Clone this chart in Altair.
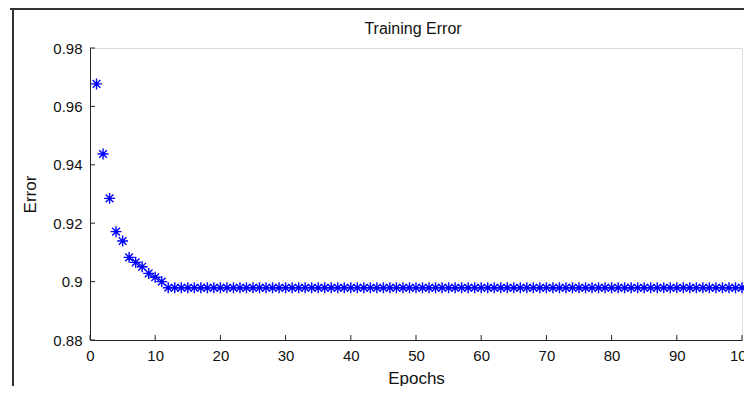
import altair as alt
import pandas as pd

epochs = list(range(1, 101))
errors = [
    0.9677, 0.9437, 0.9285, 0.9171, 0.9139, 0.9083, 0.9066, 0.9051, 0.9028, 0.9015,
    0.9000, 0.8979, 0.8979, 0.8979, 0.8979, 0.8979, 0.8979, 0.8979, 0.8979, 0.8979,
    0.8979, 0.8979, 0.8979, 0.8979, 0.8979, 0.8979, 0.8979, 0.8979, 0.8979, 0.8979,
    0.8979, 0.8979, 0.8979, 0.8979, 0.8979, 0.8979, 0.8979, 0.8979, 0.8979, 0.8979,
    0.8979, 0.8979, 0.8979, 0.8979, 0.8979, 0.8979, 0.8979, 0.8979, 0.8979, 0.8979,
    0.8979, 0.8979, 0.8979, 0.8979, 0.8979, 0.8979, 0.8979, 0.8979, 0.8979, 0.8979,
    0.8979, 0.8979, 0.8979, 0.8979, 0.8979, 0.8979, 0.8979, 0.8979, 0.8979, 0.8979,
    0.8979, 0.8979, 0.8979, 0.8979, 0.8979, 0.8979, 0.8979, 0.8979, 0.8979, 0.8979,
    0.8979, 0.8979, 0.8979, 0.8979, 0.8979, 0.8979, 0.8979, 0.8979, 0.8979, 0.8979,
    0.8979, 0.8979, 0.8979, 0.8979, 0.8979, 0.8979, 0.8979, 0.8979, 0.8979, 0.8979,
]
x_ticks = [0, 10, 20, 30, 40, 50, 60, 70, 80, 90, 100]
y_ticks = [0.88, 0.90, 0.92, 0.94, 0.96, 0.98]
title_text = ["Training Error"]

W, H = 652, 292
FONT = "Liberation Sans"
INK = "#262626"

df = pd.DataFrame({"Epoch": epochs, "Error": errors})
xt = pd.DataFrame({"t": x_ticks})
yt = pd.DataFrame({"t": y_ticks})
tt = pd.DataFrame({"label": title_text})

xscale = alt.Scale(domain=[0, 100], nice=False, zero=False)
yscale = alt.Scale(domain=[0.88, 0.98], nice=False, zero=False)

star = "M-1,0L1,0M0,-1L0,1M-0.7,-0.7L0.7,0.7M-0.7,0.7L0.7,-0.7"

points = alt.Chart(df).mark_point(
    shape=star, filled=False, color="#0000FF", strokeWidth=1.4, size=120, opacity=1
).encode(
    x=alt.X("Epoch:Q", scale=xscale,
            axis=alt.Axis(values=x_ticks, title="Epochs", ticks=False, grid=False,
                          domainColor=INK, labelPadding=8, titlePadding=7,
                          labelFont=FONT, labelFontSize=15, labelColor="#111",
                          titleFont=FONT, titleFontSize=17, titleFontWeight="normal",
                          titleColor="#111", labelFlush=False)),
    y=alt.Y("Error:Q", scale=yscale,
            axis=alt.Axis(values=y_ticks, format=".2~f", title="Error", ticks=False, grid=False,
                          domainColor=INK, labelPadding=8, titlePadding=13,
                          labelFont=FONT, labelFontSize=15, labelColor="#111",
                          titleFont=FONT, titleFontSize=17, titleFontWeight="normal",
                          titleColor="#111", labelFlush=False)),
)

xtick_marks = alt.Chart(xt).mark_rule(color=INK, strokeWidth=1).encode(
    x=alt.X("t:Q", scale=xscale),
    y=alt.value(H),
    y2=alt.value(H - 5),
)
ytick_marks = alt.Chart(yt).mark_rule(color=INK, strokeWidth=1).encode(
    y=alt.Y("t:Q", scale=yscale),
    x=alt.value(0),
    x2=alt.value(5),
)

title_mark = alt.Chart(tt).mark_text(
    font=FONT, fontSize=16, color="#111", align="center", baseline="alphabetic"
).encode(
    text="label:N",
    x=alt.value(W / 2 - 3),
    y=alt.value(-14),
)

frame_top = alt.Chart(xt).mark_rule(color="#333", strokeWidth=2).encode(
    x=alt.value(-80), x2=alt.value(W + 20), y=alt.value(-39)
)
frame_left = alt.Chart(xt).mark_rule(color="#333", strokeWidth=2).encode(
    x=alt.value(-77), y=alt.value(-39), y2=alt.value(H + 60)
)

chart = alt.layer(frame_top, frame_left, title_mark, points, xtick_marks, ytick_marks).properties(
    width=W, height=H,
    autosize=alt.AutoSizeParams(type="none"),
    padding={"left": 82, "top": 40, "right": 2, "bottom": 46},
).configure_view(stroke=None).configure(background="white")

chart.save("out.html", embed_options={"renderer": "svg", "actions": False})
